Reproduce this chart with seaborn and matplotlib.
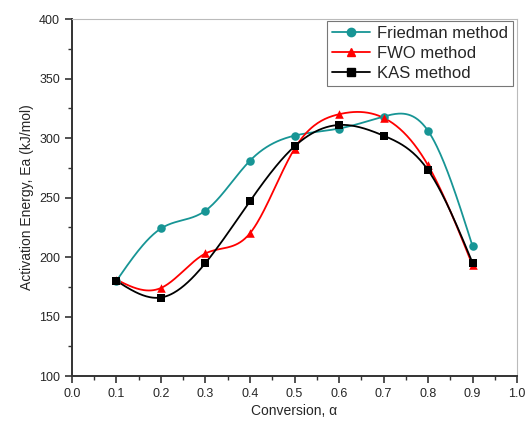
import numpy as np
import matplotlib
matplotlib.use('Agg')
import matplotlib.pyplot as plt
import seaborn as sns
from matplotlib.lines import Line2D
from matplotlib.ticker import MultipleLocator

# Data
conversion = [0.1, 0.2, 0.3, 0.4, 0.5, 0.6, 0.7, 0.8, 0.9]
friedman = [180, 224, 239, 281, 302, 308, 318, 306, 209]
fwo = [181, 174, 203, 220, 291, 320, 317, 277, 193]
kas = [180, 166, 195, 247, 293, 311, 302, 273, 195]

sns.set_style('ticks')
plt.rcParams['font.family'] = ['Liberation Sans', 'DejaVu Sans']


def spline_curve(x, y, n=300):
    # natural cubic spline through the points, for the smooth connecting line
    x = np.asarray(x, float)
    y = np.asarray(y, float)
    k = len(x)
    h = np.diff(x)
    A = np.zeros((k, k))
    b = np.zeros(k)
    A[0, 0] = A[-1, -1] = 1
    for i in range(1, k - 1):
        A[i, i - 1] = h[i - 1]
        A[i, i] = 2 * (h[i - 1] + h[i])
        A[i, i + 1] = h[i]
        b[i] = 6 * ((y[i + 1] - y[i]) / h[i] - (y[i] - y[i - 1]) / h[i - 1])
    M = np.linalg.solve(A, b)
    xs = np.linspace(x[0], x[-1], n)
    idx = np.clip(np.searchsorted(x, xs) - 1, 0, k - 2)
    x0, x1 = x[idx], x[idx + 1]
    hh = x1 - x0
    t1 = x1 - xs
    t0 = xs - x0
    ys = (M[idx] * t1 ** 3 / (6 * hh) + M[idx + 1] * t0 ** 3 / (6 * hh)
          + (y[idx] / hh - M[idx] * hh / 6) * t1
          + (y[idx + 1] / hh - M[idx + 1] * hh / 6) * t0)
    return xs, ys


fig = plt.figure(figsize=(5.25, 4.23), dpi=100)
ax = fig.add_axes([0.137, 0.111, 0.848, 0.844])

series = [
    ('Friedman method', friedman, '#179595', 'o'),
    ('FWO method', fwo, '#ff0000', '^'),
    ('KAS method', kas, '#000000', 's'),
]

handles = []
for name, vals, color, marker in series:
    xs, ys = spline_curve(conversion, vals)
    ax.plot(xs, ys, color=color, lw=1.3, zorder=2)
    sns.scatterplot(x=conversion, y=vals, marker=marker, color=color, s=38,
                    edgecolor=color, linewidth=0, ax=ax, zorder=3)
    handles.append(Line2D([], [], color=color, marker=marker, markersize=6, lw=1.3, label=name))

ax.set_xlim(0, 1.0)
ax.set_ylim(100, 400)
ax.xaxis.set_major_locator(MultipleLocator(0.1))
ax.xaxis.set_minor_locator(MultipleLocator(0.05))
ax.yaxis.set_major_locator(MultipleLocator(50))
ax.yaxis.set_minor_locator(MultipleLocator(25))
ax.xaxis.set_major_formatter(plt.FuncFormatter(lambda v, p: f'{v:.1f}'))
ax.tick_params(which='major', direction='out', length=5, width=1.2, labelsize=9, color='#333333')
ax.tick_params(which='minor', direction='out', length=3, width=1.0, color='#333333')
ax.tick_params(top=False, right=False, which='both')

for side in ['left', 'bottom']:
    ax.spines[side].set_color('#333333')
    ax.spines[side].set_linewidth(1.4)
for side in ['top', 'right']:
    ax.spines[side].set_color('#bbbbbb')
    ax.spines[side].set_linewidth(0.8)

ax.set_xlabel('Conversion, α', fontsize=10, labelpad=3)
ax.set_ylabel('Activation Energy, Ea (kJ/mol)', fontsize=10, labelpad=4)

leg = ax.legend(handles=handles, loc='upper right', fontsize=12, frameon=True,
                fancybox=False, edgecolor='#555555', borderpad=0.3,
                handlelength=2.3, handletextpad=0.4, labelspacing=0.3,
                borderaxespad=0, bbox_to_anchor=(0.991, 0.994))
leg.get_frame().set_linewidth(0.8)

fig.savefig('out.png', dpi=100)
